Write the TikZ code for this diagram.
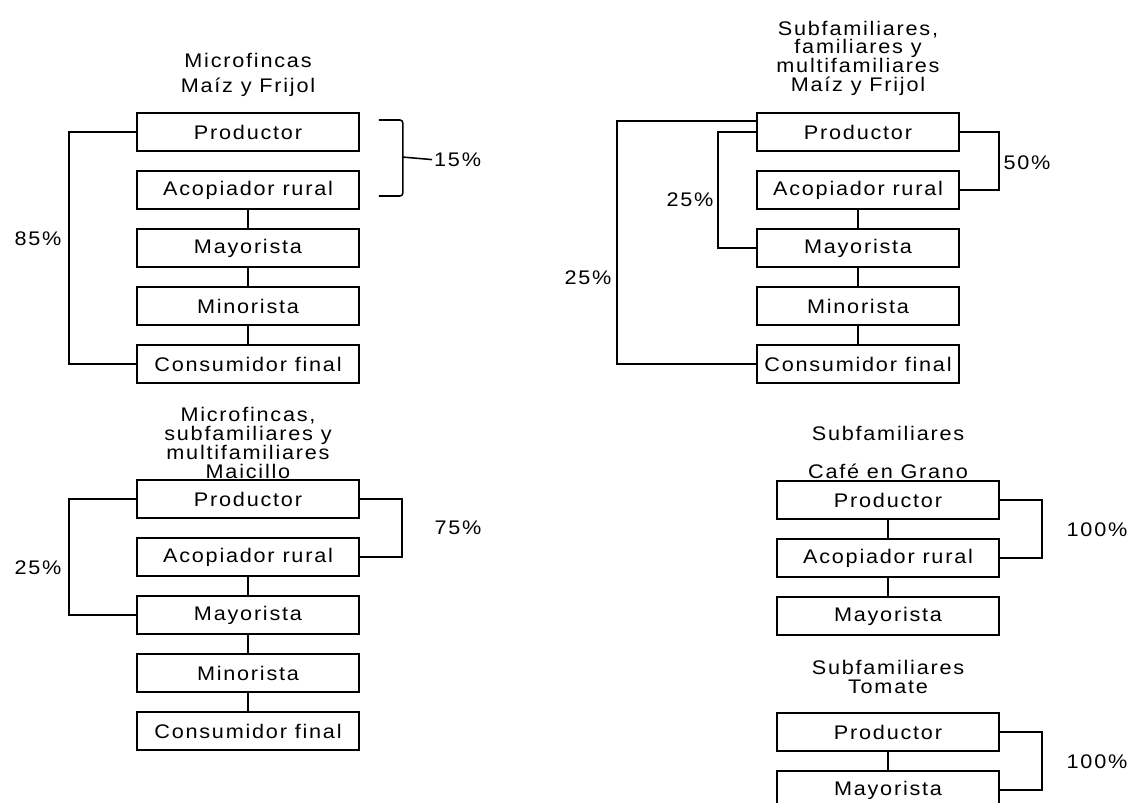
\documentclass[tikz,border=0pt]{standalone}
\usepackage{fontspec}
\setmainfont{Liberation Sans}[LetterSpace=9,FakeStretch=1.1]
\usetikzlibrary{calc}

\begin{document}
\begin{tikzpicture}[
  line width=1.1pt,
  eslabon/.style={draw, line width=1.1pt, minimum width=5.55cm, minimum height=0.95cm, inner sep=0pt, font=\fontsize{14}{13.5}\selectfont},
  titulo/.style={align=center, inner sep=0pt, font=\fontsize{14}{13.5}\selectfont},
  pct/.style={inner sep=1pt, font=\fontsize{14}{13.5}\selectfont}
]
\useasboundingbox (0,0) rectangle (28.35,-20.075);
\clip (0,0) rectangle (28.35,-20.075);

% Microfincas - maiz y frijol
\node[titulo] (tA) at (6.2,-1.88) {Microfincas\\[4pt]Maíz y Frijol};
\node[eslabon] (aP) at (6.2,-3.3) {Productor};
\node[eslabon] (aA) at (6.2,-4.75) {Acopiador rural};
\node[eslabon] (aM) at (6.2,-6.2) {Mayorista};
\node[eslabon] (aMi) at (6.2,-7.65) {Minorista};
\node[eslabon] (aC) at (6.2,-9.1) {Consumidor final};
\draw (aA) -- (aM);
\draw (aM) -- (aMi);
\draw (aMi) -- (aC);
\draw (aP.west) -- ++(-1.675,0) |- (aC.west);
\node[pct] (p85) at (0.95,-5.98) {85\%};
\coordinate (llA) at ($(aP.east)+(0.475,0.3)$);
\coordinate (llB) at ($(aA.east)+(0.475,-0.15)$);
\coordinate (llM) at (10.05,-3.925);
\draw[rounded corners=2pt] (llA) -- ++(0.6,0) |- (llB);
\node[pct, anchor=west] (p15) at (10.8,-3.99) {15\%};
\draw (llM) -- (p15.west);

% Subfamiliares, familiares y multifamiliares - maiz y frijol
\node[titulo] (tB) at (21.45,-1.46) {Subfamiliares,\\familiares y\\multifamiliares\\Maíz y Frijol};
\node[eslabon, minimum width=5.05cm] (bP) at (21.45,-3.3) {Productor};
\node[eslabon, minimum width=5.05cm] (bA) at (21.45,-4.75) {Acopiador rural};
\node[eslabon, minimum width=5.05cm] (bM) at (21.45,-6.2) {Mayorista};
\node[eslabon, minimum width=5.05cm] (bMi) at (21.45,-7.65) {Minorista};
\node[eslabon, minimum width=5.05cm] (bC) at (21.45,-9.1) {Consumidor final};
\draw (bA) -- (bM);
\draw (bM) -- (bMi);
\draw (bMi) -- (bC);
\draw ($(bP.west)+(0,0.275)$) -- ++(-3.475,0) |- (bC.west);
\draw (bP.west) -- ++(-0.95,0) |- (bM.west);
\draw (bP.east) -- ++(0.975,0) |- (bA.east);
\node[pct] (p25b) at (17.25,-5.0) {25\%};
\node[pct] (p25c) at (14.7,-6.95) {25\%};
\node[pct] (p50) at (25.675,-4.075) {50\%};

% Microfincas, subfamiliares y multifamiliares - maicillo
\node[titulo] (tC) at (6.2,-11.08) {Microfincas,\\subfamiliares y\\multifamiliares\\Maicillo};
\node[eslabon] (cP) at (6.2,-12.475) {Productor};
\node[eslabon] (cA) at (6.2,-13.925) {Acopiador rural};
\node[eslabon] (cM) at (6.2,-15.375) {Mayorista};
\node[eslabon] (cMi) at (6.2,-16.825) {Minorista};
\node[eslabon] (cC) at (6.2,-18.275) {Consumidor final};
\draw (cA) -- (cM);
\draw (cM) -- (cMi);
\draw (cMi) -- (cC);
\draw (cP.west) -- ++(-1.675,0) |- (cM.west);
\draw (cP.east) -- ++(1.05,0) |- (cA.east);
\node[pct] (p25d) at (0.95,-14.2) {25\%};
\node[pct] (p75) at (11.45,-13.2) {75\%};

% Subfamiliares - cafe en grano
\node[titulo] (tD) at (22.2,-11.31) {Subfamiliares\\[14pt]Café en Grano};
\node[eslabon] (dP) at (22.2,-12.5) {Productor};
\node[eslabon] (dA) at (22.2,-13.95) {Acopiador rural};
\node[eslabon] (dM) at (22.2,-15.4) {Mayorista};
\draw (dP) -- (dA);
\draw (dA) -- (dM);
\draw (dP.east) -- ++(1.05,0) |- (dA.east);
\node[pct] (p100a) at (27.425,-13.25) {100\%};

% Subfamiliares - tomate
\node[titulo] (tE) at (22.2,-16.93) {Subfamiliares\\Tomate};
\node[eslabon] (eP) at (22.2,-18.3) {Productor};
\node[eslabon] (eM) at (22.2,-19.75) {Mayorista};
\draw (eP) -- (eM);
\draw (eP.east) -- ++(1.05,0) |- (eM.east);
\node[pct] (p100b) at (27.425,-19.05) {100\%};
\end{tikzpicture}
\end{document}
